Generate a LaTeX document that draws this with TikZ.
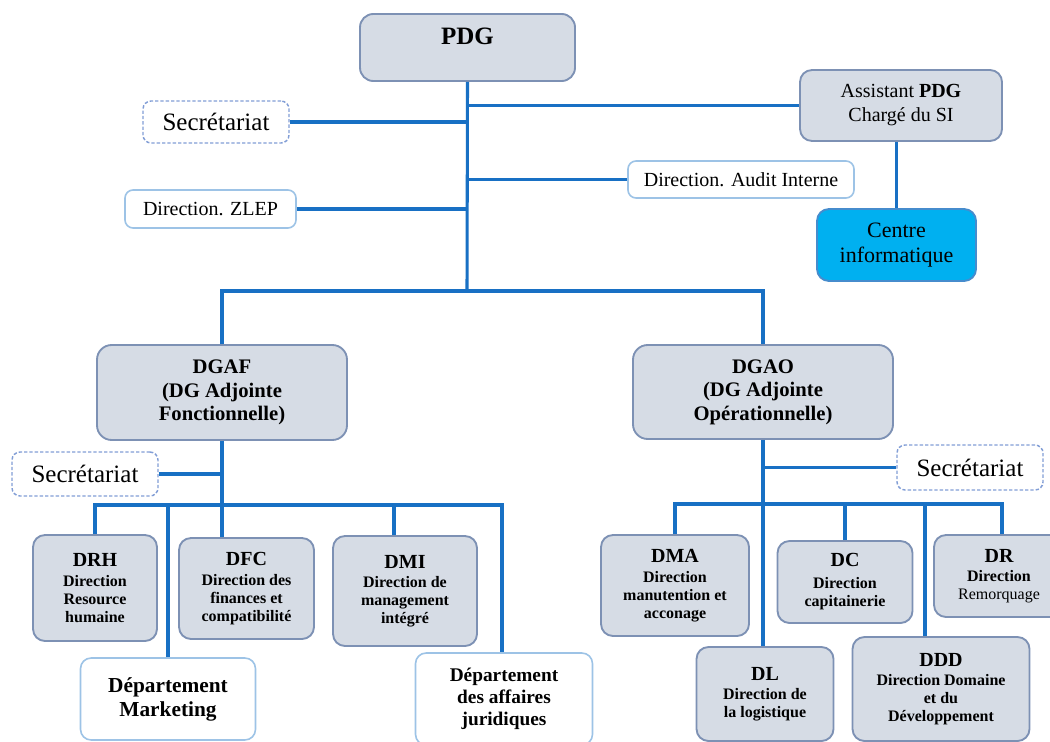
\documentclass[tikz,border=0pt]{standalone}
\usepackage{fontspec}
\setmainfont{Liberation Serif}
\definecolor{linkblue}{RGB}{24,112,196}
\definecolor{grayfill}{RGB}{214,220,229}
\definecolor{grayedge}{RGB}{125,145,180}
\definecolor{whiteedge}{RGB}{157,195,230}
\definecolor{dashedge}{RGB}{130,158,214}
\definecolor{cyanfill}{RGB}{0,176,240}
\definecolor{cyanedge}{RGB}{70,140,205}
\newcommand\boxtitle[1]{{\fontsize{15pt}{15pt}\selectfont\bfseries #1}}
\tikzset{
  link/.style={draw=linkblue, line width=2.3pt},
  gbox/.style={draw=grayedge, fill=grayfill, line width=1.4pt, rounded corners=9pt,
    align=center, inner sep=0pt},
  wbox/.style={draw=whiteedge, fill=white, line width=1.2pt, rounded corners=6pt,
    align=center, inner sep=0pt},
  dbox/.style={draw=dashedge, fill=white, line width=1.1pt, dash pattern=on 2.5pt off 1.5pt,
    rounded corners=6pt, align=center, inner sep=0pt},
  sz/.style 2 args={minimum width=#1*0.75pt, minimum height=#2*0.75pt},
  small/.style={font=\fontsize{12pt}{13.5pt}\selectfont\bfseries},
}
\begin{document}
\begin{tikzpicture}[x=0.75pt, y=-0.75pt]
\useasboundingbox (0,0) rectangle (1050,742);
\clip (0,0) rectangle (1050,742);

% top level
\node[gbox, sz={215}{67}, rounded corners=10pt, text depth=16.5pt,
  font=\fontsize{18.75pt}{20pt}\selectfont\bfseries] (pdg) at (467.5,47.5) {PDG};
\node[gbox, sz={202}{71}, font=\fontsize{15pt}{18pt}\selectfont] (asst) at (901,105.5)
  {Assistant \textbf{PDG}\\Chargé du SI};
\node[gbox, draw=cyanedge, fill=cyanfill, sz={159}{72},
  font=\fontsize{16.5pt}{18.75pt}\selectfont] (ci) at (896.5,245) {Centre\\informatique};
\node[dbox, sz={146}{42}, font=\fontsize{18.75pt}{20pt}\selectfont] (sec1) at (216,122) {Secrétariat};
\node[wbox, sz={171}{38}, font=\fontsize{15pt}{18pt}\selectfont] (zlep) at (210.5,209) {Direction. ZLEP};
\node[wbox, sz={226}{37}, font=\fontsize{15pt}{18pt}\selectfont] (audit) at (741,179.5) {Direction. Audit Interne};

% deputy directors
\node[gbox, sz={250}{95}, rounded corners=11pt, font=\fontsize{15.5pt}{17.6pt}\selectfont\bfseries]
  (dgaf) at (222,392.5) {DGAF\\(DG Adjointe\\Fonctionnelle)};
\node[gbox, sz={260}{94}, rounded corners=11pt, font=\fontsize{15.5pt}{17.6pt}\selectfont\bfseries]
  (dgao) at (763,392) {DGAO\\(DG Adjointe\\Opérationnelle)};

\node[dbox, sz={146}{44}, font=\fontsize{18.75pt}{20pt}\selectfont] (sec2) at (85,474) {Secrétariat};
\node[dbox, sz={146}{45}, font=\fontsize{18.75pt}{20pt}\selectfont] (sec3) at (970,467.5) {Secrétariat};

% functional directorates
\node[gbox, sz={124}{106}, small] (drh) at (95,588) {\boxtitle{DRH}\\[1pt]Direction\\Resource\\humaine};
\node[gbox, sz={135}{101}, small] (dfc) at (246.5,588.5) {\boxtitle{DFC}\\[1pt]Direction des\\finances et\\compatibilité};
\node[gbox, sz={144}{110}, small] (dmi) at (405,591) {\boxtitle{DMI}\\[1pt]Direction de\\management\\intégré};
\node[wbox, sz={175}{82}, rounded corners=8pt, font=\fontsize{16pt}{18pt}\selectfont\bfseries]
  (mkt) at (168,699) {Département\\Marketing};
\node[wbox, sz={177}{92}, rounded corners=8pt, font=\fontsize{14.5pt}{16.5pt}\selectfont\bfseries]
  (jur) at (504,699) {Département\\des affaires\\juridiques};

% operational directorates
\node[gbox, sz={148}{101}, small] (dma) at (675,585.5) {\boxtitle{DMA}\\[1pt]Direction\\manutention et\\acconage};
\node[gbox, sz={135}{82}, small] (dc) at (845,582) {\boxtitle{DC}\\[3pt]Direction\\capitainerie};
\node[gbox, sz={130}{82}, small] (dr) at (999,576) {\boxtitle{DR}\\[1pt]Direction\\{\mdseries Remorquage}};
\node[gbox, sz={137}{94}, small] (dl) at (765,694) {\boxtitle{DL}\\[1pt]Direction de\\la logistique};
\node[gbox, sz={177}{104}, small] (ddd) at (941,689) {\boxtitle{DDD}\\[1pt]Direction Domaine\\et du\\Développement};

% connectors from the PDG
\coordinate (hub) at (467,291);
\draw[link] (pdg.south) -- (hub);
\draw[link] (pdg.south |- asst.west) -- (asst.west);
\draw[link] (sec1.east) -- (pdg.south |- sec1.east);
\draw[link] (pdg.south |- audit.west) -- (audit.west);
\draw[link] (zlep.east) -- (pdg.south |- zlep.east);
\draw[link] (asst.south -| ci.north) -- (ci.north);
\draw[link] (dgaf.north) |- (hub) -| (dgao.north);

% DGAF branch
\coordinate (busf) at (222,505);
\draw[link] (dgaf.south) -- (dgaf.south |- dfc.north);
\draw[link] (sec2.east) -- (dgaf.south |- sec2.east);
\draw[link] (drh.north) -- (drh.north |- busf) -- ([xshift=-1.5pt]jur.north |- busf) -- ([xshift=-1.5pt]jur.north);
\draw[link] (mkt.north) -- (mkt.north |- busf);
\draw[link] ([xshift=-8.25pt]dmi.north) -- ([xshift=-8.25pt]dmi.north |- busf);

% DGAO branch
\coordinate (buso) at (765,504);
\draw[link] (dgao.south) -- (dgao.south |- dl.north);
\draw[link] (sec3.west) -- (dgao.south |- sec3.west);
\draw[link] (dma.north) -- (dma.north |- buso) -- ([xshift=2.25pt]dr.north |- buso) -- ([xshift=2.25pt]dr.north);
\draw[link] (dc.north) -- (dc.north |- buso);
\draw[link] ([xshift=-12pt]ddd.north) -- ([xshift=-12pt]ddd.north |- buso);
\end{tikzpicture}
\end{document}
